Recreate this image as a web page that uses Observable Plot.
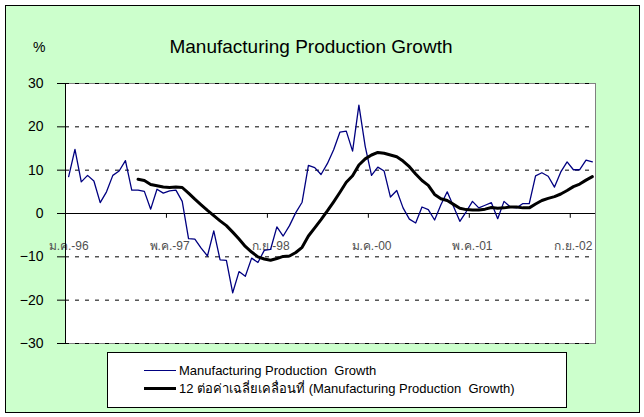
<!DOCTYPE html>
<html>
<head>
<meta charset="utf-8">
<script src="https://cdn.jsdelivr.net/npm/d3@7"></script>
<script src="https://cdn.jsdelivr.net/npm/@observablehq/plot@0.6"></script>
<style>
  html, body { margin: 0; padding: 0; background: #ffffff; }
  #wrap { position: relative; width: 644px; height: 417px; overflow: hidden;
          font-family: "Liberation Sans", Arial, sans-serif; }
  #border { position: absolute; left: 5px; top: 5px; width: 635px; height: 408px;
            box-sizing: border-box; border: 1px solid #000; background: #CCFFCC; }
  #chart { position: absolute; left: 0; top: 0; }
  #title { position: absolute; left: 0; width: 622px; top: 36px; text-align: center;
           font-size: 19px; line-height: 22px; color: #000; }
  #unit { position: absolute; left: 33px; top: 39px; font-size: 14px; line-height: 16px; color: #000; }
  #legend { position: absolute; left: 107px; top: 352px; width: 460px; height: 56px;
            box-sizing: border-box; border: 1px solid #000; background: #fff; }
  .item { position: absolute; left: 36px; height: 18px; display: flex; align-items: center;
          font-size: 13px; white-space: pre; color: #000; }
  .swatch { width: 32px; margin-right: 3px; }
</style>
</head>
<body>
<div id="wrap">
  <div id="border"></div>
  <div id="chart"></div>
  <div id="unit"></div>
  <div id="title"></div>
  <div id="legend"></div>
</div>
<script>
// ---- data ----
const titleText = "Manufacturing Production Growth";
const unitText = "%";
const seriesNames = ["Manufacturing Production  Growth",
                     "12 ต่อค่าเฉลี่ยเคลื่อนที่ (Manufacturing Production  Growth)"];
const seriesColors = ["#000080", "#000000"];

// monthly growth, Jan 1996 .. Dec 2002 (84 months)
const growth = [
  8.5, 14.8, 7.3, 8.8, 7.5, 2.5, 5.0, 8.8, 9.8, 12.2, 5.4, 5.4,
  5.1, 1.0, 5.6, 4.7, 5.2, 5.4, 2.8, -5.8, -5.9, -8.0, -9.8, -4.0,
  -10.7, -10.8, -18.3, -13.4, -14.5, -10.3, -11.3, -8.5, -8.3, -3.1, -5.2, -2.8,
  0.2, 2.6, 11.1, 10.6, 9.0, 11.5, 14.7, 18.8, 19.0, 14.4, 25.0, 15.5,
  8.8, 10.7, 9.8, 3.8, 5.3, 1.3, -1.3, -2.2, 1.5, 0.9, -1.5, 2.0,
  5.0, 1.6, -1.8, 0.4, 2.8, 1.3, 1.9, 2.5, -1.2, 2.8, 1.5, 1.3,
  2.3, 2.3, 8.7, 9.4, 8.6, 6.1, 9.6, 11.9, 10.1, 10.1, 12.3, 11.9
];
// 12-month moving average, starting at month index 11 (Dec 1996)
const maStart = 11;
const movingAvg = [
  7.9, 7.6, 6.7, 6.4, 6.1, 6.0, 6.1, 6.0, 4.7, 3.3, 2.0, 0.7,
  -0.5, -1.7, -2.8, -4.3, -5.9, -7.6, -8.9, -10.0, -10.5, -10.8, -10.4, -9.9,
  -9.8, -9.0, -7.8, -5.2, -3.3, -1.4, 0.6, 2.7, 4.9, 7.2, 8.7, 11.2,
  12.6, 13.5, 14.1, 13.9, 13.5, 13.1, 12.1, 10.8, 9.1, 7.6, 6.5, 4.4,
  3.4, 3.0, 2.1, 1.2, 0.9, 0.8, 0.8, 1.0, 1.4, 1.2, 1.3, 1.5,
  1.5, 1.3, 1.3, 2.2, 3.0, 3.5, 3.9, 4.5, 5.3, 6.2, 6.8, 7.7, 8.5
];
const xTickIndex = [0, 16, 32, 48, 64, 80];
const xTickLabels = ["ม.ค.-96", "พ.ค.-97", "ก.ย.-98", "ม.ค.-00", "พ.ค.-01", "ก.ย.-02"];
const yTicks = [-30, -20, -10, 0, 10, 20, 30];
const yGrid = [-30, -20, -10, 10, 20, 30];
const yDomain = [-30, 30];
const xLabelLevel = -7.5;

// ---- build ----
const growthData = growth.map((v, i) => ({i, v}));
const maData = movingAvg.map((v, k) => ({i: k + maStart, v}));
const tickData = xTickIndex.map((i, k) => ({i, label: xTickLabels[k]}));

const chart = Plot.plot({
  width: 644, height: 417,
  marginLeft: 65, marginRight: 49, marginTop: 83, marginBottom: 74,
  x: {domain: [-0.5, growth.length - 0.5], axis: null},
  y: {domain: yDomain, axis: null},
  style: {background: "transparent", fontFamily: "'Liberation Sans', Arial, sans-serif", overflow: "visible"},
  marks: [
    Plot.frame({fill: "#ffffff", stroke: "#808080"}),
    Plot.ruleY(yGrid, {stroke: "#000", strokeDasharray: "4,6", strokeWidth: 1}),
    Plot.ruleY([0], {stroke: "#000", strokeWidth: 1}),
    Plot.ruleX(tickData, {x: d => d.i - 0.5, y1: 0, y2: -1.1, stroke: "#000"}),
    Plot.text(tickData, {x: "i", y: () => xLabelLevel, text: "label", fontSize: 12, fill: "#505050"}),
    Plot.line(growthData, {x: "i", y: "v", stroke: seriesColors[0], strokeWidth: 1.3}),
    Plot.line(maData, {x: "i", y: "v", stroke: seriesColors[1], strokeWidth: 3}),
    Plot.frame({anchor: "left", stroke: "#000"}),
    Plot.axisY({ticks: yTicks, tickSize: 8, tickPadding: 14, fontSize: 14, label: null, color: "#000"})
  ]
});
document.getElementById("chart").appendChild(chart);

document.getElementById("title").textContent = titleText;
document.getElementById("unit").textContent = unitText;

const legend = document.getElementById("legend");
seriesNames.forEach((name, k) => {
  const item = document.createElement("div");
  item.className = "item";
  item.style.top = (8 + k * 18) + "px";
  const sw = document.createElement("div");
  sw.className = "swatch";
  sw.style.borderTop = (k === 0 ? 1.3 : 3) + "px solid " + seriesColors[k];
  const tx = document.createElement("span");
  tx.textContent = name;
  item.appendChild(sw);
  item.appendChild(tx);
  legend.appendChild(item);
});
</script>
</body>
</html>
